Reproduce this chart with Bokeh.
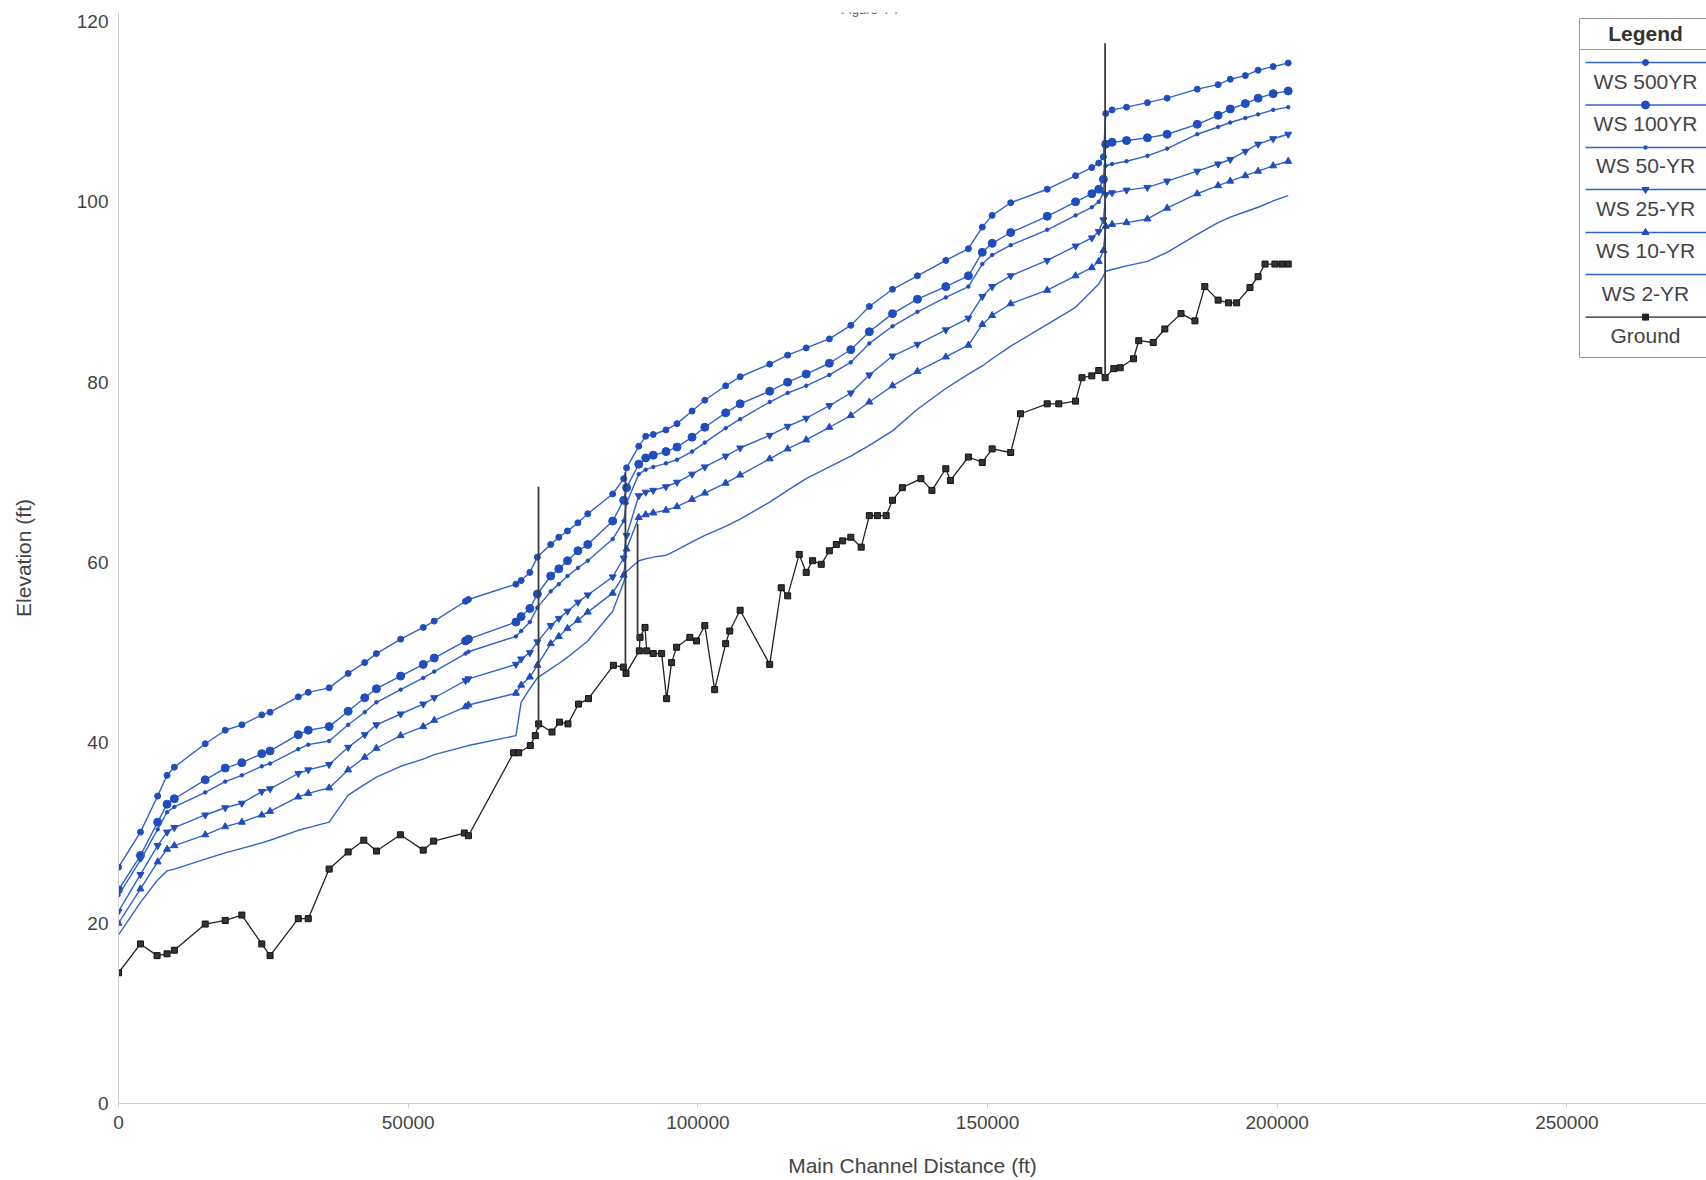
from bokeh.plotting import figure
from bokeh.models import Range1d, FixedTicker, PrintfTickFormatter, Label
from bokeh.core.properties import value
from bokeh.embed import file_html
from bokeh.resources import INLINE

# ---------------- data ----------------
station = [0, 3790, 6760, 8380, 9640, 14970, 18420, 21290, 24730, 26160,
           31030, 32750, 36360, 39640, 42500, 44520, 48700, 52600, 54500, 59900,
           60400, 68600, 69500, 71000, 72300, 74600, 76000, 77500, 79300, 81000,
           85300, 87200, 87700, 89800, 91000, 92300, 94500, 96400, 99000, 101200,
           104800, 107300, 112400, 115500, 118700, 122700, 126400, 129600, 133600, 137900,
           142800, 146700, 149100, 150800, 154000, 160300, 165200, 168000, 169200, 170000,
           170400, 171500, 174000, 177600, 181000, 186200, 189800, 191900, 194500, 196700,
           199300, 201900]

ws_500 = [26.2, 30.1, 34.1, 36.4, 37.3, 39.9, 41.4, 42.0, 43.1, 43.4,
          45.1, 45.6, 46.1, 47.7, 48.9, 49.9, 51.5, 52.8, 53.5, 55.7,
          55.9, 57.6, 58.0, 58.9, 60.6, 62.0, 62.8, 63.5, 64.4, 65.4,
          67.6, 69.3, 70.5, 72.9, 74.0, 74.2, 74.7, 75.4, 76.8, 78.0,
          79.6, 80.6, 82.0, 83.0, 83.8, 84.8, 86.3, 88.4, 90.3, 91.8,
          93.5, 94.8, 97.2, 98.5, 99.9, 101.4, 102.9, 103.8, 104.3, 105.0,
          109.8, 110.2, 110.5, 111.0, 111.5, 112.5, 113.0, 113.6, 114.0, 114.6,
          115.0, 115.4]
ws_100 = [23.7, 27.5, 31.2, 33.2, 33.8, 35.9, 37.2, 37.8, 38.8, 39.1,
          40.9, 41.4, 41.8, 43.5, 45.0, 46.0, 47.4, 48.7, 49.4, 51.3,
          51.5, 53.4, 54.0, 54.9, 56.5, 58.5, 59.3, 60.2, 61.3, 62.0,
          64.6, 66.9, 68.3, 70.9, 71.6, 71.9, 72.3, 72.8, 73.9, 75.0,
          76.6, 77.6, 79.0, 80.0, 80.9, 82.1, 83.6, 85.6, 87.6, 89.2,
          90.6, 91.8, 94.4, 95.4, 96.6, 98.4, 100.0, 100.9, 101.4, 102.5,
          106.4, 106.6, 106.8, 107.1, 107.5, 108.6, 109.6, 110.3, 110.9, 111.5,
          112.0, 112.3]
ws_50 = [23.1, 27.0, 30.4, 32.3, 32.9, 34.5, 35.7, 36.4, 37.4, 37.7,
         39.3, 39.8, 40.2, 42.0, 43.4, 44.5, 45.9, 47.2, 47.9, 49.9,
         50.1, 51.8, 52.4, 53.4, 55.0, 56.8, 57.6, 58.5, 59.4, 60.2,
         62.6, 64.6, 66.6, 69.8, 70.3, 70.6, 71.0, 71.4, 72.3, 73.3,
         74.9, 75.9, 77.8, 78.8, 79.6, 80.8, 82.2, 84.3, 86.2, 87.8,
         89.4, 90.6, 93.1, 94.1, 95.2, 96.9, 98.5, 99.4, 100.0, 101.0,
         104.0, 104.2, 104.5, 105.1, 105.9, 107.5, 108.3, 108.8, 109.3, 109.7,
         110.2, 110.5]
ws_25 = [21.3, 25.4, 28.6, 30.1, 30.6, 32.0, 32.8, 33.3, 34.6, 34.9,
         36.6, 37.0, 37.6, 39.5, 40.9, 42.0, 43.2, 44.3, 45.0, 46.9,
         47.1, 48.7, 49.3, 50.0, 51.2, 53.0, 53.8, 54.6, 55.6, 56.4,
         58.4, 60.5, 63.0, 67.4, 67.8, 68.0, 68.4, 68.9, 69.8, 70.6,
         71.8, 72.7, 74.1, 75.1, 76.0, 77.4, 78.8, 80.8, 82.9, 84.2,
         85.8, 87.1, 89.5, 90.6, 91.8, 93.5, 95.1, 96.0, 96.7, 98.0,
         100.8, 101.0, 101.3, 101.6, 102.3, 103.4, 104.2, 104.7, 105.6, 106.4,
         107.0, 107.5]
ws_10 = [20.0, 23.8, 26.8, 28.2, 28.6, 29.8, 30.7, 31.2, 32.0, 32.4,
         34.0, 34.4, 35.0, 37.0, 38.4, 39.4, 40.8, 41.8, 42.5, 44.0,
         44.2, 45.5, 46.4, 47.3, 48.6, 51.0, 51.8, 52.7, 53.6, 54.5,
         56.6, 58.6, 61.5, 65.0, 65.3, 65.5, 65.8, 66.2, 67.0, 67.7,
         68.8, 69.7, 71.5, 72.6, 73.6, 75.0, 76.3, 77.8, 79.6, 81.2,
         82.8, 84.1, 86.4, 87.4, 88.7, 90.2, 91.8, 92.7, 93.4, 94.6,
         97.3, 97.5, 97.7, 98.1, 99.3, 100.9, 101.8, 102.3, 102.9, 103.4,
         104.0, 104.5]
ws_2 = [18.7, 22.3, 24.8, 25.8, 26.0, 27.1, 27.8, 28.3, 28.9, 29.2,
        30.3, 30.6, 31.2, 34.2, 35.4, 36.2, 37.4, 38.2, 38.7, 39.6,
        39.7, 40.8, 44.5, 46.0, 47.2, 48.2, 48.8, 49.5, 50.4, 51.3,
        54.6, 57.8, 59.0, 60.2, 60.4, 60.6, 60.8, 61.4, 62.3, 63.0,
        64.0, 64.8, 66.7, 68.0, 69.3, 70.6, 71.8, 73.0, 74.6, 77.0,
        79.3, 80.9, 81.8, 82.6, 84.0, 86.4, 88.3, 90.1, 90.9, 91.8,
        92.3, 92.5, 92.9, 93.4, 94.4, 96.4, 97.7, 98.3, 98.9, 99.4,
        100.1, 100.7]

ground_x = [0, 3790, 6660, 8380, 9640, 14970, 18420, 21290, 24730, 26160,
            31030, 32750, 36360, 39640, 42340, 44520, 48660, 52600, 54400, 59700,
            60400, 68210, 69070, 71080, 71940, 72520, 74820, 76130, 77580, 79400,
            81120, 85420, 87140, 87600, 89900, 90020, 90880, 91170, 92300, 93750,
            94610, 95470, 96330, 98620, 99770, 101200, 102900, 104800, 105500, 107300,
            112400, 114400, 115500, 117500, 118700, 119800, 121300, 122700, 123900, 125000,
            126400, 128200, 129600, 131000, 132500, 133600, 135300, 138500, 140400, 142800,
            143600, 146700, 149100, 150800, 154000, 155700, 160300, 162300, 165200, 166300,
            168000, 169200, 170300, 171800, 172900, 175200, 176100, 178600, 180600, 183400,
            185800, 187500, 189800, 191600, 193000, 195300, 196700, 197900, 199600, 200800,
            201900]
ground_y = [14.5, 17.7, 16.4, 16.6, 17.0, 19.9, 20.3, 20.9, 17.7, 16.4,
            20.5, 20.5, 26.0, 27.9, 29.2, 28.0, 29.8, 28.1, 29.1, 30.0,
            29.7, 38.9, 38.9, 39.7, 40.8, 42.1, 41.2, 42.3, 42.1, 44.3,
            44.9, 48.6, 48.4, 47.7, 50.2, 51.7, 52.8, 50.2, 49.9, 49.9,
            44.9, 48.9, 50.6, 51.7, 51.3, 53.0, 45.9, 51.0, 52.4, 54.7,
            48.7, 57.2, 56.3, 60.9, 58.9, 60.2, 59.8, 61.3, 62.0, 62.4,
            62.8, 61.7, 65.2, 65.2, 65.2, 66.9, 68.3, 69.3, 68.0, 70.4,
            69.1, 71.7, 71.1, 72.6, 72.2, 76.5, 77.6, 77.6, 77.9, 80.5,
            80.7, 81.3, 80.5, 81.5, 81.6, 82.6, 84.6, 84.4, 85.9, 87.6,
            86.8, 90.6, 89.1, 88.8, 88.8, 90.5, 91.7, 93.1, 93.1, 93.1,
            93.1]

# structures (vertical lines): station, low and high elevation
struct_x = [72500, 87500, 89600, 170300]
struct_lo = [41.5, 48.5, 51.5, 80.8]
struct_hi = [68.4, 70.0, 64.3, 117.6]

series_names = ["WS 500YR", "WS 100YR", "WS 50-YR", "WS 25-YR", "WS 10-YR", "WS 2-YR", "Ground"]
x_ticks = [0, 50000, 100000, 150000, 200000, 250000]
y_ticks = [0, 20, 40, 60, 80, 100, 120]

# ---------------- styling ----------------
FONT = "Liberation Sans"
LINE_BLUE = "#2f63c9"
MARK_BLUE = "#1f4dbd"
GROUND = "#222222"
TXT = "#444444"
AXIS = "#cfcfcf"

FW, FH = 1588, 1091

p = figure(frame_width=FW, frame_height=FH,
           x_range=Range1d(0, 274100), y_range=Range1d(0, 121),
           output_backend="svg", toolbar_location=None,
           min_border_left=118, min_border_right=0,
           min_border_top=12, min_border_bottom=77)
p.background_fill_color = "white"
p.border_fill_color = "white"
p.outline_line_color = None
p.xgrid.grid_line_color = None
p.ygrid.grid_line_color = None

p.xaxis.ticker = FixedTicker(ticks=x_ticks)
p.yaxis.ticker = FixedTicker(ticks=y_ticks)
p.xaxis.formatter = PrintfTickFormatter(format="%d")
p.yaxis.formatter = PrintfTickFormatter(format="%d")
for ax in (p.xaxis, p.yaxis):
    ax.axis_line_color = AXIS
    ax.major_tick_line_color = AXIS
    ax.minor_tick_line_color = None
    ax.major_tick_in = 0
    ax.major_label_text_font = FONT
    ax.major_label_text_font_size = "19px"
    ax.major_label_text_color = TXT
    ax.axis_label_text_font = FONT
    ax.axis_label_text_font_size = "21px"
    ax.axis_label_text_font_style = "normal"
    ax.axis_label_text_color = TXT
p.xaxis.major_tick_out = 4
p.xaxis.major_label_standoff = 8
p.xaxis.axis_label = "Main Channel Distance (ft)"
p.xaxis.axis_label_standoff = 22
p.yaxis.major_tick_out = 0
p.yaxis.major_label_standoff = 10
p.yaxis.axis_label = "Elevation (ft)"
p.yaxis.axis_label_standoff = 39

# ---------------- water-surface profiles ----------------
profiles = [ws_500, ws_100, ws_50, ws_25, ws_10, ws_2]
markers = ["circle", "circle", "circle", "inverted_triangle", "triangle", None]
msizes = [6, 8, 3.5, 7, 7, 0]
for name, ys, mk, ms in zip(series_names[:6], profiles, markers, msizes):
    p.line(station, ys, line_color=LINE_BLUE, line_width=1.4)
    if mk is not None:
        p.scatter(station, ys, marker=mk, size=ms, fill_color=MARK_BLUE,
                  line_color=MARK_BLUE, line_width=1)

# ground
p.line(ground_x, ground_y, line_color=GROUND, line_width=1.3)
p.scatter(ground_x, ground_y, marker="square", size=6, fill_color="#333333",
          line_color="#111111")

# structures
p.segment(x0=struct_x, y0=struct_lo, x1=struct_x, y1=struct_hi,
          line_color="#3a3a3a", line_width=1.8)

# ---------------- legend (drawn in frame pixel coordinates) ----------------
p.extra_x_ranges = {"lx": Range1d(0, FW)}
p.extra_y_ranges = {"ly": Range1d(0, FH)}
L, R, T, B = 1461, 1600, 1085, 746
p.quad(left=[L], right=[R], top=[T], bottom=[B], fill_color="white",
       line_color="#9a9a9a", line_width=1, x_range_name="lx", y_range_name="ly")
p.segment(x0=[L], y0=[1054], x1=[R], y1=[1054], line_color="#9a9a9a",
          line_width=1, x_range_name="lx", y_range_name="ly")
p.text(x=[1527], y=[1070], text=["Legend"], text_font=value(FONT),
       text_font_size="21px", text_font_style="bold", text_color="#333333",
       text_align="center", text_baseline="middle",
       x_range_name="lx", y_range_name="ly")
line_y = [1041, 998.5, 956, 914, 871, 829, 786.4]
text_y = [1022.5, 980, 937.6, 895.2, 853, 810.3, 768]
leg_markers = markers + ["square"]
leg_sizes = msizes + [6]
for i, name in enumerate(series_names):
    col = GROUND if name == "Ground" else LINE_BLUE
    mcol = "#222222" if name == "Ground" else MARK_BLUE
    p.segment(x0=[L + 6], y0=[line_y[i]], x1=[R], y1=[line_y[i]], line_color=col,
              line_width=1.4, x_range_name="lx", y_range_name="ly")
    if leg_markers[i] is not None:
        p.scatter(x=[1527], y=[line_y[i]], marker=leg_markers[i], size=leg_sizes[i],
                  fill_color=mcol, line_color=mcol, x_range_name="lx", y_range_name="ly")
    p.text(x=[1527], y=[text_y[i]], text=[name], text_font=value(FONT),
           text_font_size="21px", text_color=TXT, text_align="center",
           text_baseline="middle", x_range_name="lx", y_range_name="ly")

# figure caption at the very top
p.add_layout(Label(x=752, y=FH + 3, x_units="screen", y_units="screen",
                   text="Figure 4-7", text_font=FONT, text_font_size="13px",
                   text_color="#555555", text_align="center",
                   text_baseline="middle"))

open("out.html", "w").write(file_html(p, INLINE))
